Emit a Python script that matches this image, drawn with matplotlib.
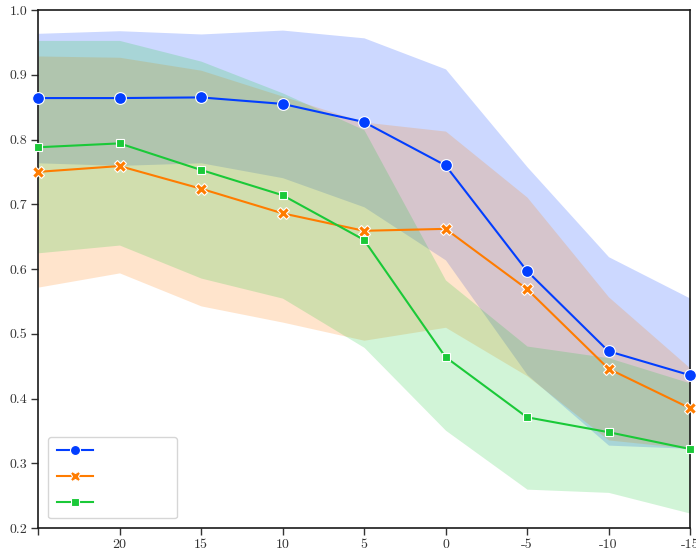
import numpy as np
import matplotlib.pyplot as plt

plt.rcParams['font.family'] = 'serif'
plt.rcParams['font.serif'] = ['cmr10', 'DejaVu Serif']
plt.rcParams['font.size'] = 10

# x categories (first tick carries no label)
x_labels = ['', '20', '15', '10', '5', '0', '-5', '-10', '-15']

# mean curves
mean_a = [0.864, 0.864, 0.865, 0.855, 0.827, 0.760, 0.597, 0.473, 0.436]
mean_b = [0.750, 0.759, 0.724, 0.686, 0.659, 0.662, 0.569, 0.446, 0.385]
mean_c = [0.788, 0.794, 0.753, 0.714, 0.645, 0.464, 0.371, 0.348, 0.322]

# spread bands (upper / lower)
upper_a = [0.964, 0.968, 0.963, 0.969, 0.957, 0.909, 0.758, 0.619, 0.555]
lower_a = [0.764, 0.760, 0.764, 0.741, 0.696, 0.614, 0.437, 0.328, 0.323]
upper_b = [0.929, 0.927, 0.907, 0.867, 0.827, 0.813, 0.711, 0.557, 0.447]
lower_b = [0.572, 0.594, 0.543, 0.518, 0.490, 0.510, 0.435, 0.336, 0.323]
upper_c = [0.953, 0.953, 0.921, 0.872, 0.815, 0.583, 0.481, 0.463, 0.424]
lower_c = [0.625, 0.637, 0.586, 0.555, 0.479, 0.351, 0.260, 0.255, 0.223]

colors = ['#023eff', '#ff7c00', '#1ac938']
markers = ['o', 'X', (4, 0, 45)]

fig = plt.figure(figsize=(6.96, 5.52), dpi=100)
ax = fig.add_axes([38 / 696, 24 / 552, 652 / 696, 518 / 552])

x = np.arange(len(x_labels))
series = [(mean_a, upper_a, lower_a), (mean_b, upper_b, lower_b),
          (mean_c, upper_c, lower_c)]
for (m, up, lo), c, mk in zip(series, colors, markers):
    ax.plot(x, m, color=c, marker=mk, markersize=8.5, lw=1.5,
            markeredgecolor='white', markeredgewidth=0.8,
            clip_on=False, zorder=3, label='\u00a0' * 14)
    ax.fill_between(x, lo, up, color=c, alpha=0.2, lw=0)

ax.set_xlim(x[0], x[-1])
ax.set_ylim(0.2, 1.0)
ax.set_xticks(x)
ax.set_xticklabels(x_labels)
yt = np.round(np.arange(0.2, 1.01, 0.1), 1)
ax.set_yticks(yt)
ax.set_yticklabels([f'{v:.1f}' for v in yt])
ax.tick_params(length=5, width=1, pad=2.5, colors='0.2', labelcolor='0.2')
for s in ax.spines.values():
    s.set_linewidth(1.2)
    s.set_color('0.1')

ax.legend(loc='lower left', handlelength=2.6, labelspacing=0.95,
          borderpad=0.6, fancybox=True, edgecolor='0.8', markerscale=0.85,
          bbox_to_anchor=(0.005, 0.005))

fig.savefig('out.png', dpi=100)
